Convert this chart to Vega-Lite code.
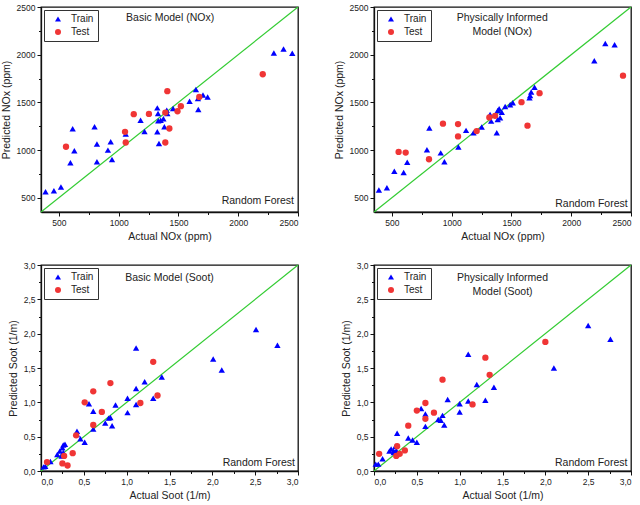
{
  "$schema": "https://vega.github.io/schema/vega-lite/v6.json",
  "padding": {"left": 0, "top": 2, "right": 2, "bottom": 2},
  "data": {
    "values": [
      {"panel": "nb", "set": "Train", "actual": 388, "predicted": 563},
      {"panel": "nb", "set": "Train", "actual": 458, "predicted": 573},
      {"panel": "nb", "set": "Train", "actual": 517, "predicted": 612},
      {"panel": "nb", "set": "Train", "actual": 596, "predicted": 866},
      {"panel": "nb", "set": "Train", "actual": 615, "predicted": 1222},
      {"panel": "nb", "set": "Train", "actual": 629, "predicted": 992},
      {"panel": "nb", "set": "Train", "actual": 798, "predicted": 1243},
      {"panel": "nb", "set": "Train", "actual": 818, "predicted": 1062},
      {"panel": "nb", "set": "Train", "actual": 818, "predicted": 877},
      {"panel": "nb", "set": "Train", "actual": 910, "predicted": 999},
      {"panel": "nb", "set": "Train", "actual": 933, "predicted": 1086},
      {"panel": "nb", "set": "Train", "actual": 944, "predicted": 901},
      {"panel": "nb", "set": "Train", "actual": 1059, "predicted": 1167},
      {"panel": "nb", "set": "Train", "actual": 1183, "predicted": 1313},
      {"panel": "nb", "set": "Train", "actual": 1216, "predicted": 1194},
      {"panel": "nb", "set": "Train", "actual": 1323, "predicted": 1442},
      {"panel": "nb", "set": "Train", "actual": 1323, "predicted": 1191},
      {"panel": "nb", "set": "Train", "actual": 1337, "predicted": 1069},
      {"panel": "nb", "set": "Train", "actual": 1329, "predicted": 1383},
      {"panel": "nb", "set": "Train", "actual": 1331, "predicted": 1306},
      {"panel": "nb", "set": "Train", "actual": 1351, "predicted": 1313},
      {"panel": "nb", "set": "Train", "actual": 1374, "predicted": 1327},
      {"panel": "nb", "set": "Train", "actual": 1382, "predicted": 1243},
      {"panel": "nb", "set": "Train", "actual": 1402, "predicted": 1418},
      {"panel": "nb", "set": "Train", "actual": 1407, "predicted": 1383},
      {"panel": "nb", "set": "Train", "actual": 1455, "predicted": 1435},
      {"panel": "nb", "set": "Train", "actual": 1593, "predicted": 1512},
      {"panel": "nb", "set": "Train", "actual": 1646, "predicted": 1634},
      {"panel": "nb", "set": "Train", "actual": 1663, "predicted": 1540},
      {"panel": "nb", "set": "Train", "actual": 1666, "predicted": 1425},
      {"panel": "nb", "set": "Train", "actual": 1705, "predicted": 1578},
      {"panel": "nb", "set": "Train", "actual": 1744, "predicted": 1557},
      {"panel": "nb", "set": "Train", "actual": 2298, "predicted": 2018},
      {"panel": "nb", "set": "Train", "actual": 2379, "predicted": 2060},
      {"panel": "nb", "set": "Train", "actual": 2452, "predicted": 2015},
      {"panel": "nb", "set": "Test", "actual": 559, "predicted": 1034},
      {"panel": "nb", "set": "Test", "actual": 1053, "predicted": 1191},
      {"panel": "nb", "set": "Test", "actual": 1059, "predicted": 1079},
      {"panel": "nb", "set": "Test", "actual": 1126, "predicted": 1376},
      {"panel": "nb", "set": "Test", "actual": 1253, "predicted": 1379},
      {"panel": "nb", "set": "Test", "actual": 1390, "predicted": 1079},
      {"panel": "nb", "set": "Test", "actual": 1390, "predicted": 1393},
      {"panel": "nb", "set": "Test", "actual": 1407, "predicted": 1617},
      {"panel": "nb", "set": "Test", "actual": 1424, "predicted": 1226},
      {"panel": "nb", "set": "Test", "actual": 1492, "predicted": 1407},
      {"panel": "nb", "set": "Test", "actual": 1520, "predicted": 1460},
      {"panel": "nb", "set": "Test", "actual": 1674, "predicted": 1557},
      {"panel": "nb", "set": "Test", "actual": 2205, "predicted": 1795},

      {"panel": "np", "set": "Train", "actual": 391, "predicted": 580},
      {"panel": "np", "set": "Train", "actual": 458, "predicted": 604},
      {"panel": "np", "set": "Train", "actual": 520, "predicted": 778},
      {"panel": "np", "set": "Train", "actual": 598, "predicted": 764},
      {"panel": "np", "set": "Train", "actual": 628, "predicted": 872},
      {"panel": "np", "set": "Train", "actual": 793, "predicted": 1004},
      {"panel": "np", "set": "Train", "actual": 813, "predicted": 1230},
      {"panel": "np", "set": "Train", "actual": 908, "predicted": 970},
      {"panel": "np", "set": "Train", "actual": 939, "predicted": 876},
      {"panel": "np", "set": "Train", "actual": 1056, "predicted": 1032},
      {"panel": "np", "set": "Train", "actual": 1120, "predicted": 1206},
      {"panel": "np", "set": "Train", "actual": 1182, "predicted": 1182},
      {"panel": "np", "set": "Train", "actual": 1251, "predicted": 1241},
      {"panel": "np", "set": "Train", "actual": 1321, "predicted": 1373},
      {"panel": "np", "set": "Train", "actual": 1330, "predicted": 1303},
      {"panel": "np", "set": "Train", "actual": 1377, "predicted": 1182},
      {"panel": "np", "set": "Train", "actual": 1385, "predicted": 1321},
      {"panel": "np", "set": "Train", "actual": 1385, "predicted": 1415},
      {"panel": "np", "set": "Train", "actual": 1397, "predicted": 1432},
      {"panel": "np", "set": "Train", "actual": 1405, "predicted": 1338},
      {"panel": "np", "set": "Train", "actual": 1419, "predicted": 1397},
      {"panel": "np", "set": "Train", "actual": 1447, "predicted": 1456},
      {"panel": "np", "set": "Train", "actual": 1489, "predicted": 1474},
      {"panel": "np", "set": "Train", "actual": 1511, "predicted": 1495},
      {"panel": "np", "set": "Train", "actual": 1651, "predicted": 1547},
      {"panel": "np", "set": "Train", "actual": 1656, "predicted": 1571},
      {"panel": "np", "set": "Train", "actual": 1665, "predicted": 1609},
      {"panel": "np", "set": "Train", "actual": 1693, "predicted": 1658},
      {"panel": "np", "set": "Train", "actual": 2193, "predicted": 1936},
      {"panel": "np", "set": "Train", "actual": 2285, "predicted": 2117},
      {"panel": "np", "set": "Train", "actual": 2363, "predicted": 2103},
      {"panel": "np", "set": "Test", "actual": 556, "predicted": 980},
      {"panel": "np", "set": "Test", "actual": 615, "predicted": 973},
      {"panel": "np", "set": "Test", "actual": 810, "predicted": 903},
      {"panel": "np", "set": "Test", "actual": 927, "predicted": 1276},
      {"panel": "np", "set": "Test", "actual": 1053, "predicted": 1272},
      {"panel": "np", "set": "Test", "actual": 1053, "predicted": 1143},
      {"panel": "np", "set": "Test", "actual": 1209, "predicted": 1199},
      {"panel": "np", "set": "Test", "actual": 1315, "predicted": 1342},
      {"panel": "np", "set": "Test", "actual": 1363, "predicted": 1359},
      {"panel": "np", "set": "Test", "actual": 1584, "predicted": 1502},
      {"panel": "np", "set": "Test", "actual": 1634, "predicted": 1255},
      {"panel": "np", "set": "Test", "actual": 1735, "predicted": 1596},
      {"panel": "np", "set": "Test", "actual": 2433, "predicted": 1780},

      {"panel": "sb", "set": "Train", "actual": 0.03, "predicted": 0.06},
      {"panel": "sb", "set": "Train", "actual": 0.05, "predicted": 0.07},
      {"panel": "sb", "set": "Train", "actual": 0.11, "predicted": 0.14},
      {"panel": "sb", "set": "Train", "actual": 0.19, "predicted": 0.24},
      {"panel": "sb", "set": "Train", "actual": 0.22, "predicted": 0.29},
      {"panel": "sb", "set": "Train", "actual": 0.24, "predicted": 0.22},
      {"panel": "sb", "set": "Train", "actual": 0.25, "predicted": 0.34},
      {"panel": "sb", "set": "Train", "actual": 0.26, "predicted": 0.38},
      {"panel": "sb", "set": "Train", "actual": 0.28, "predicted": 0.39},
      {"panel": "sb", "set": "Train", "actual": 0.26, "predicted": 0.27},
      {"panel": "sb", "set": "Train", "actual": 0.42, "predicted": 0.58},
      {"panel": "sb", "set": "Train", "actual": 0.42, "predicted": 0.53},
      {"panel": "sb", "set": "Train", "actual": 0.46, "predicted": 0.47},
      {"panel": "sb", "set": "Train", "actual": 0.51, "predicted": 0.42},
      {"panel": "sb", "set": "Train", "actual": 0.56, "predicted": 0.98},
      {"panel": "sb", "set": "Train", "actual": 0.61, "predicted": 0.87},
      {"panel": "sb", "set": "Train", "actual": 0.61, "predicted": 0.61},
      {"panel": "sb", "set": "Train", "actual": 0.75, "predicted": 0.7},
      {"panel": "sb", "set": "Train", "actual": 0.79, "predicted": 0.77},
      {"panel": "sb", "set": "Train", "actual": 0.81, "predicted": 0.78},
      {"panel": "sb", "set": "Train", "actual": 0.83, "predicted": 0.66},
      {"panel": "sb", "set": "Train", "actual": 0.87, "predicted": 0.96},
      {"panel": "sb", "set": "Train", "actual": 1.01, "predicted": 1.06},
      {"panel": "sb", "set": "Train", "actual": 1.01, "predicted": 0.85},
      {"panel": "sb", "set": "Train", "actual": 1.11, "predicted": 1.79},
      {"panel": "sb", "set": "Train", "actual": 1.11, "predicted": 1.2},
      {"panel": "sb", "set": "Train", "actual": 1.11, "predicted": 0.97},
      {"panel": "sb", "set": "Train", "actual": 1.21, "predicted": 1.3},
      {"panel": "sb", "set": "Train", "actual": 1.31, "predicted": 1.06},
      {"panel": "sb", "set": "Train", "actual": 1.41, "predicted": 1.37},
      {"panel": "sb", "set": "Train", "actual": 2.01, "predicted": 1.63},
      {"panel": "sb", "set": "Train", "actual": 2.11, "predicted": 1.47},
      {"panel": "sb", "set": "Train", "actual": 2.51, "predicted": 2.06},
      {"panel": "sb", "set": "Train", "actual": 2.76, "predicted": 1.83},
      {"panel": "sb", "set": "Test", "actual": 0.07, "predicted": 0.13},
      {"panel": "sb", "set": "Test", "actual": 0.25, "predicted": 0.11},
      {"panel": "sb", "set": "Test", "actual": 0.27, "predicted": 0.22},
      {"panel": "sb", "set": "Test", "actual": 0.31, "predicted": 0.08},
      {"panel": "sb", "set": "Test", "actual": 0.37, "predicted": 0.26},
      {"panel": "sb", "set": "Test", "actual": 0.41, "predicted": 0.52},
      {"panel": "sb", "set": "Test", "actual": 0.51, "predicted": 1.0},
      {"panel": "sb", "set": "Test", "actual": 0.61, "predicted": 1.16},
      {"panel": "sb", "set": "Test", "actual": 0.61, "predicted": 0.67},
      {"panel": "sb", "set": "Test", "actual": 0.71, "predicted": 0.86},
      {"panel": "sb", "set": "Test", "actual": 0.81, "predicted": 1.28},
      {"panel": "sb", "set": "Test", "actual": 1.16, "predicted": 0.99},
      {"panel": "sb", "set": "Test", "actual": 1.31, "predicted": 1.59},
      {"panel": "sb", "set": "Test", "actual": 1.36, "predicted": 1.1},

      {"panel": "sp", "set": "Train", "actual": 0.02, "predicted": 0.1},
      {"panel": "sp", "set": "Train", "actual": 0.05, "predicted": 0.1},
      {"panel": "sp", "set": "Train", "actual": 0.1, "predicted": 0.18},
      {"panel": "sp", "set": "Train", "actual": 0.18, "predicted": 0.29},
      {"panel": "sp", "set": "Train", "actual": 0.2, "predicted": 0.32},
      {"panel": "sp", "set": "Train", "actual": 0.23, "predicted": 0.29},
      {"panel": "sp", "set": "Train", "actual": 0.25, "predicted": 0.36},
      {"panel": "sp", "set": "Train", "actual": 0.26, "predicted": 0.3},
      {"panel": "sp", "set": "Train", "actual": 0.27, "predicted": 0.55},
      {"panel": "sp", "set": "Train", "actual": 0.23, "predicted": 0.27},
      {"panel": "sp", "set": "Train", "actual": 0.4, "predicted": 0.48},
      {"panel": "sp", "set": "Train", "actual": 0.45, "predicted": 0.45},
      {"panel": "sp", "set": "Train", "actual": 0.5, "predicted": 0.42},
      {"panel": "sp", "set": "Train", "actual": 0.55, "predicted": 0.91},
      {"panel": "sp", "set": "Train", "actual": 0.6, "predicted": 0.83},
      {"panel": "sp", "set": "Train", "actual": 0.6, "predicted": 0.65},
      {"panel": "sp", "set": "Train", "actual": 0.75, "predicted": 0.75},
      {"panel": "sp", "set": "Train", "actual": 0.78, "predicted": 0.74},
      {"panel": "sp", "set": "Train", "actual": 0.8, "predicted": 0.81},
      {"panel": "sp", "set": "Train", "actual": 0.82, "predicted": 0.67},
      {"panel": "sp", "set": "Train", "actual": 0.86, "predicted": 1.04},
      {"panel": "sp", "set": "Train", "actual": 1.0, "predicted": 0.98},
      {"panel": "sp", "set": "Train", "actual": 1.0, "predicted": 0.86},
      {"panel": "sp", "set": "Train", "actual": 1.1, "predicted": 1.02},
      {"panel": "sp", "set": "Train", "actual": 1.1, "predicted": 1.7},
      {"panel": "sp", "set": "Train", "actual": 1.2, "predicted": 1.26},
      {"panel": "sp", "set": "Train", "actual": 1.3, "predicted": 1.03},
      {"panel": "sp", "set": "Train", "actual": 1.4, "predicted": 1.22},
      {"panel": "sp", "set": "Train", "actual": 2.1, "predicted": 1.5},
      {"panel": "sp", "set": "Train", "actual": 2.5, "predicted": 2.12},
      {"panel": "sp", "set": "Train", "actual": 2.76, "predicted": 1.92},
      {"panel": "sp", "set": "Test", "actual": 0.06, "predicted": 0.25},
      {"panel": "sp", "set": "Test", "actual": 0.26, "predicted": 0.22},
      {"panel": "sp", "set": "Test", "actual": 0.3, "predicted": 0.25},
      {"panel": "sp", "set": "Test", "actual": 0.27, "predicted": 0.36},
      {"panel": "sp", "set": "Test", "actual": 0.36, "predicted": 0.3},
      {"panel": "sp", "set": "Test", "actual": 0.4, "predicted": 0.66},
      {"panel": "sp", "set": "Test", "actual": 0.5, "predicted": 0.88},
      {"panel": "sp", "set": "Test", "actual": 0.6, "predicted": 0.99},
      {"panel": "sp", "set": "Test", "actual": 0.6, "predicted": 0.76},
      {"panel": "sp", "set": "Test", "actual": 0.7, "predicted": 0.85},
      {"panel": "sp", "set": "Test", "actual": 0.8, "predicted": 1.33},
      {"panel": "sp", "set": "Test", "actual": 1.15, "predicted": 0.97},
      {"panel": "sp", "set": "Test", "actual": 1.3, "predicted": 1.65},
      {"panel": "sp", "set": "Test", "actual": 1.35, "predicted": 1.4},
      {"panel": "sp", "set": "Test", "actual": 2.0, "predicted": 1.88}
    ]
  },
  "columns": 2,
  "bounds": "flush",
  "spacing": {"row": 53, "column": 76},
  "resolve": {
    "scale": {"x": "independent", "y": "independent", "color": "independent", "shape": "independent"},
    "legend": {"color": "independent", "shape": "independent"}
  },
  "concat": [
    {
      "width": 257,
      "height": 205,
      "resolve": {"axis": {"x": "independent", "y": "independent"}},
      "layer": [
        {
          "data": {"values": [{}]},
          "mark": {"type": "rule", "color": "#33cc33", "strokeWidth": 1.2},
          "encoding": {
            "x": {"datum": 350, "type": "quantitative", "scale": {"domain": [350, 2500], "nice": false, "zero": false},
              "axis": {"orient": "bottom", "values": [750, 1250, 1750, 2250], "labels": false, "domain": false, "tickSize": 2.5, "title": null}},
            "y": {"datum": 350, "type": "quantitative", "scale": {"domain": [350, 2500], "nice": false, "zero": false},
              "axis": {"orient": "left", "values": [750, 1250, 1750, 2250], "labels": false, "domain": false, "tickSize": 2.5, "title": null}},
            "x2": {"datum": 2500},
            "y2": {"datum": 2500}
          }
        },
        {
          "transform": [{"filter": "datum.panel === 'nb'"}],
          "mark": {"type": "point", "filled": true, "size": 40, "opacity": 1},
          "encoding": {
            "x": {
              "field": "actual", "type": "quantitative", "title": "Actual NOx (ppm)",
              "scale": {"domain": [350, 2500], "nice": false, "zero": false},
              "axis": {"orient": "bottom", "values": [500, 1000, 1500, 2000, 2500], "format": "d"}
            },
            "y": {
              "field": "predicted", "type": "quantitative", "title": "Predicted NOx (ppm)",
              "scale": {"domain": [350, 2500], "nice": false, "zero": false},
              "axis": {"orient": "left", "values": [500, 1000, 1500, 2000, 2500], "format": "d"}
            },
            "color": {"field": "set", "type": "nominal", "scale": {"domain": ["Train", "Test"], "range": ["#0000ff", "#f03535"]}, "legend": {"title": null}},
            "shape": {"field": "set", "type": "nominal", "scale": {"domain": ["Train", "Test"], "range": ["triangle-up", "circle"]}, "legend": {"title": null}}
          }
        },
        {
          "data": {"values": [{}]},
          "mark": {"type": "text", "text": "Basic Model (NOx)", "baseline": "top", "align": "center"},
          "encoding": {"x": {"datum": 1430, "axis": null}, "y": {"datum": 2435, "axis": null}}
        },
        {
          "data": {"values": [{}]},
          "mark": {"type": "text", "text": "Random Forest", "baseline": "middle", "align": "right"},
          "encoding": {"x": {"datum": 2467, "axis": null}, "y": {"datum": 465, "axis": null}}
        }
      ]
    },
    {
      "width": 257,
      "height": 205,
      "resolve": {"axis": {"x": "independent", "y": "independent"}},
      "layer": [
        {
          "data": {"values": [{}]},
          "mark": {"type": "rule", "color": "#33cc33", "strokeWidth": 1.2},
          "encoding": {
            "x": {"datum": 350, "type": "quantitative", "scale": {"domain": [350, 2500], "nice": false, "zero": false},
              "axis": {"orient": "bottom", "values": [750, 1250, 1750, 2250], "labels": false, "domain": false, "tickSize": 2.5, "title": null}},
            "y": {"datum": 350, "type": "quantitative", "scale": {"domain": [350, 2500], "nice": false, "zero": false},
              "axis": {"orient": "left", "values": [750, 1250, 1750, 2250], "labels": false, "domain": false, "tickSize": 2.5, "title": null}},
            "x2": {"datum": 2500},
            "y2": {"datum": 2500}
          }
        },
        {
          "transform": [{"filter": "datum.panel === 'np'"}],
          "mark": {"type": "point", "filled": true, "size": 40, "opacity": 1},
          "encoding": {
            "x": {
              "field": "actual", "type": "quantitative", "title": "Actual NOx (ppm)",
              "scale": {"domain": [350, 2500], "nice": false, "zero": false},
              "axis": {"orient": "bottom", "values": [500, 1000, 1500, 2000, 2500], "format": "d"}
            },
            "y": {
              "field": "predicted", "type": "quantitative", "title": "Predicted NOx (ppm)",
              "scale": {"domain": [350, 2500], "nice": false, "zero": false},
              "axis": {"orient": "left", "values": [500, 1000, 1500, 2000, 2500], "format": "d"}
            },
            "color": {"field": "set", "type": "nominal", "scale": {"domain": ["Train", "Test"], "range": ["#0000ff", "#f03535"]}, "legend": {"title": null}},
            "shape": {"field": "set", "type": "nominal", "scale": {"domain": ["Train", "Test"], "range": ["triangle-up", "circle"]}, "legend": {"title": null}}
          }
        },
        {
          "data": {"values": [{}]},
          "mark": {"type": "text", "text": ["Physically Informed", "Model (NOx)"], "baseline": "top", "align": "center", "lineHeight": 14},
          "encoding": {"x": {"datum": 1423, "axis": null}, "y": {"datum": 2435, "axis": null}}
        },
        {
          "data": {"values": [{}]},
          "mark": {"type": "text", "text": "Random Forest", "baseline": "middle", "align": "right"},
          "encoding": {"x": {"datum": 2472, "axis": null}, "y": {"datum": 435, "axis": null}}
        }
      ]
    },
    {
      "width": 257,
      "height": 206,
      "resolve": {"axis": {"x": "independent", "y": "independent"}},
      "layer": [
        {
          "data": {"values": [{}]},
          "mark": {"type": "rule", "color": "#33cc33", "strokeWidth": 1.2},
          "encoding": {
            "x": {"datum": 0, "type": "quantitative", "scale": {"domain": [0, 3], "nice": false},
              "axis": {"orient": "bottom", "values": [0, 0.25, 0.5, 0.75, 1, 1.25, 1.5, 1.75, 2, 2.25, 2.5, 2.75, 3], "labels": false, "domain": false, "tickSize": 2.5, "title": null}},
            "y": {"datum": 0, "type": "quantitative", "scale": {"domain": [0, 3], "nice": false},
              "axis": {"orient": "left", "values": [0, 0.25, 0.5, 0.75, 1, 1.25, 1.5, 1.75, 2, 2.25, 2.5, 2.75, 3], "labels": false, "domain": false, "tickSize": 2.5, "title": null}},
            "x2": {"datum": 3},
            "y2": {"datum": 3}
          }
        },
        {
          "transform": [{"filter": "datum.panel === 'sb'"}],
          "mark": {"type": "point", "filled": true, "size": 40, "opacity": 1},
          "encoding": {
            "x": {
              "field": "actual", "type": "quantitative", "title": "Actual Soot (1/m)",
              "scale": {"domain": [0, 3], "nice": false},
              "axis": {"orient": "bottom", "tickCount": 6, "format": ".1f"}
            },
            "y": {
              "field": "predicted", "type": "quantitative", "title": "Predicted Soot (1/m)",
              "scale": {"domain": [0, 3], "nice": false},
              "axis": {"orient": "left", "tickCount": 6, "format": ".1f"}
            },
            "color": {"field": "set", "type": "nominal", "scale": {"domain": ["Train", "Test"], "range": ["#0000ff", "#f03535"]}, "legend": {"title": null}},
            "shape": {"field": "set", "type": "nominal", "scale": {"domain": ["Train", "Test"], "range": ["triangle-up", "circle"]}, "legend": {"title": null}}
          }
        },
        {
          "data": {"values": [{}]},
          "mark": {"type": "text", "text": "Basic Model (Soot)", "baseline": "top", "align": "center"},
          "encoding": {"x": {"datum": 1.5, "axis": null}, "y": {"datum": 2.88, "axis": null}}
        },
        {
          "data": {"values": [{}]},
          "mark": {"type": "text", "text": "Random Forest", "baseline": "middle", "align": "right"},
          "encoding": {"x": {"datum": 2.965, "axis": null}, "y": {"datum": 0.12, "axis": null}}
        }
      ]
    },
    {
      "width": 257,
      "height": 206,
      "resolve": {"axis": {"x": "independent", "y": "independent"}},
      "layer": [
        {
          "data": {"values": [{}]},
          "mark": {"type": "rule", "color": "#33cc33", "strokeWidth": 1.2},
          "encoding": {
            "x": {"datum": 0, "type": "quantitative", "scale": {"domain": [0, 3], "nice": false},
              "axis": {"orient": "bottom", "values": [0, 0.25, 0.5, 0.75, 1, 1.25, 1.5, 1.75, 2, 2.25, 2.5, 2.75, 3], "labels": false, "domain": false, "tickSize": 2.5, "title": null}},
            "y": {"datum": 0, "type": "quantitative", "scale": {"domain": [0, 3], "nice": false},
              "axis": {"orient": "left", "values": [0, 0.25, 0.5, 0.75, 1, 1.25, 1.5, 1.75, 2, 2.25, 2.5, 2.75, 3], "labels": false, "domain": false, "tickSize": 2.5, "title": null}},
            "x2": {"datum": 3},
            "y2": {"datum": 3}
          }
        },
        {
          "transform": [{"filter": "datum.panel === 'sp'"}],
          "mark": {"type": "point", "filled": true, "size": 40, "opacity": 1},
          "encoding": {
            "x": {
              "field": "actual", "type": "quantitative", "title": "Actual Soot (1/m)",
              "scale": {"domain": [0, 3], "nice": false},
              "axis": {"orient": "bottom", "tickCount": 6, "format": ".1f"}
            },
            "y": {
              "field": "predicted", "type": "quantitative", "title": "Predicted Soot (1/m)",
              "scale": {"domain": [0, 3], "nice": false},
              "axis": {"orient": "left", "tickCount": 6, "format": ".1f"}
            },
            "color": {"field": "set", "type": "nominal", "scale": {"domain": ["Train", "Test"], "range": ["#0000ff", "#f03535"]}, "legend": {"title": null}},
            "shape": {"field": "set", "type": "nominal", "scale": {"domain": ["Train", "Test"], "range": ["triangle-up", "circle"]}, "legend": {"title": null}}
          }
        },
        {
          "data": {"values": [{}]},
          "mark": {"type": "text", "text": ["Physically Informed", "Model (Soot)"], "baseline": "top", "align": "center", "lineHeight": 14},
          "encoding": {"x": {"datum": 1.5, "axis": null}, "y": {"datum": 2.88, "axis": null}}
        },
        {
          "data": {"values": [{}]},
          "mark": {"type": "text", "text": "Random Forest", "baseline": "middle", "align": "right"},
          "encoding": {"x": {"datum": 2.958, "axis": null}, "y": {"datum": 0.12, "axis": null}}
        }
      ]
    }
  ],
  "config": {
    "locale": {"number": {"decimal": ",", "thousands": ".", "grouping": [3], "currency": ["", ""]}},
    "font": "Liberation Sans",
    "view": {"stroke": "#111", "strokeWidth": 1.3},
    "axis": {
      "grid": false,
      "domainColor": "#111",
      "domainWidth": 1.3,
      "tickColor": "#111",
      "tickSize": 4,
      "tickWidth": 1,
      "labelOverlap": false,
      "labelFont": "Liberation Sans",
      "labelFontSize": 8.5,
      "labelColor": "#222",
      "labelPadding": 2,
      "titleFont": "Liberation Sans",
      "titleFontSize": 10.5,
      "titleFontWeight": "normal",
      "titleColor": "#222",
      "titlePadding": 5
    },
    "legend": {
      "orient": "top-left",
      "offset": 3,
      "padding": 4,
      "strokeColor": "#333",
      "strokeWidth": 1,
      "fillColor": "white",
      "labelFont": "Liberation Sans",
      "labelFontSize": 10,
      "labelColor": "#222",
      "symbolSize": 36,
      "symbolOffset": 5,
      "labelOffset": 8,
      "rowPadding": 3
    },
    "text": {"font": "Liberation Sans", "fontSize": 10.5, "color": "#222"}
  }
}
